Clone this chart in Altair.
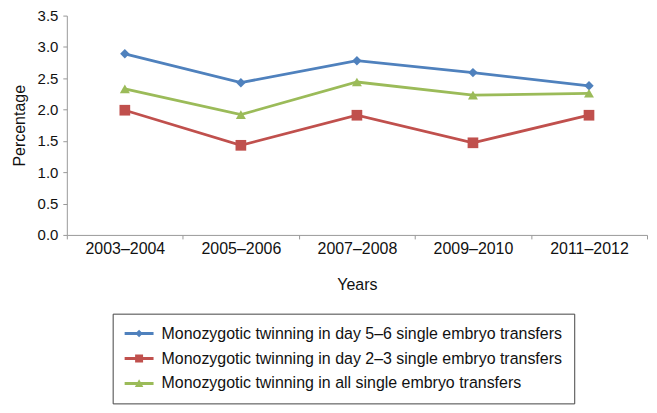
import altair as alt
import pandas as pd

years = ["2003–2004", "2005–2006", "2007–2008", "2009–2010", "2011–2012"]
series_names = [
    "Monozygotic twinning in day 5–6 single embryo transfers",
    "Monozygotic twinning in day 2–3 single embryo transfers",
    "Monozygotic twinning in all single embryo transfers",
]
day56 = [2.89, 2.43, 2.78, 2.59, 2.38]
day23 = [1.99, 1.43, 1.91, 1.47, 1.91]
all_set = [2.33, 1.92, 2.44, 2.23, 2.26]
colors = ["#4F81BD", "#C0504D", "#9BBB59"]
marker_shapes = ["diamond", "square", "triangle-up"]
marker_sizes = [90, 115, 100]

rows = []
for name, vals in zip(series_names, [day56, day23, all_set]):
    for y, v in zip(years, vals):
        rows.append({"Years": y, "Percentage": v, "Series": name})
df = pd.DataFrame(rows)

FONT = "Liberation Sans"
# legend glyphs: short line segment with the series marker on it
LINE = "M-1.6,-0.3H4.2V0.3H-1.6Z "
legend_paths = [
    LINE + "M1.3,-0.75L2.05,0L1.3,0.75L0.55,0Z",
    LINE + "M0.5,-0.8H2.1V0.8H0.5Z",
    LINE + "M1.3,-0.85L2.15,0.7L0.45,0.7Z",
]

x_enc = alt.X(
    "Years:N",
    sort=years,
    bandPosition=0.5,
    scale=alt.Scale(type="band", domain=years, paddingInner=0, paddingOuter=0),
    axis=alt.Axis(
        title="Years", labelAngle=0, tickBand="extent", tickSize=4,
        labelPadding=2, titlePadding=20, domainColor="#999999", tickColor="#999999",
    ),
)
y_enc = alt.Y(
    "Percentage:Q",
    scale=alt.Scale(domain=[0, 3.5], nice=False, zero=True),
    axis=alt.Axis(
        title="Percentage", values=[0, 0.5, 1, 1.5, 2, 2.5, 3, 3.5], format=".1f",
        grid=False, tickSize=4, labelPadding=5, titlePadding=10, labelFontSize=15,
        domainColor="#999999", tickColor="#999999",
    ),
)

layers = []
for name, col in zip(series_names, colors):
    layers.append(
        alt.Chart(df).transform_filter(alt.datum.Series == name)
        .mark_line(strokeWidth=2.8, color=col)
        .encode(x=x_enc, y=y_enc)
    )
for name, col, shp, sz in zip(series_names, colors, marker_shapes, marker_sizes):
    layers.append(
        alt.Chart(df).transform_filter(alt.datum.Series == name)
        .mark_point(shape=shp, size=sz, filled=True, opacity=1, color=col)
        .encode(x=x_enc, y=y_enc)
    )

# helper layer that only feeds the legend (its marks are clipped outside the plot)
legend_layer = alt.Chart(df).transform_calculate(
    Percentage="-100"
).mark_point(filled=True, clip=True, opacity=1).encode(
    x=x_enc, y=y_enc,
    color=alt.Color(
        "Series:N", scale=alt.Scale(domain=series_names, range=colors),
        legend=alt.Legend(
            title=None, orient="none", legendX=46, legendY=299,
            symbolSize=100, symbolStrokeWidth=0, symbolOpacity=1,
            labelFontSize=16, labelFont=FONT, labelColor="#111111",
            labelLimit=1000, labelOffset=21, rowPadding=9,
            strokeColor="#444444", padding=12,
        ),
    ),
    shape=alt.Shape("Series:N", scale=alt.Scale(domain=series_names, range=legend_paths)),
)
layers.append(legend_layer)

chart = alt.layer(*layers).properties(
    width=582, height=220,
    autosize=alt.AutoSizeParams(type="none"),
    padding={"left": 59, "top": 7, "right": 2, "bottom": 173},
).configure_axis(
    labelFont=FONT, titleFont=FONT, labelFontSize=16, titleFontSize=16,
    labelColor="#111111", titleColor="#111111", titleFontWeight="normal",
).configure_view(stroke=None)

chart.save("out.html", embed_options={"renderer": "svg", "actions": False})
